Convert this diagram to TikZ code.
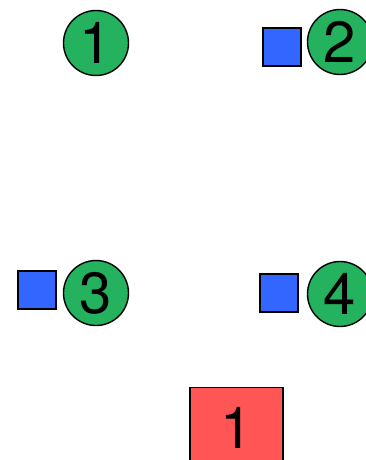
\documentclass[tikz,border=0pt]{standalone}
\usepackage{fontspec}
\setmainfont{TeX Gyre Heros}
\usetikzlibrary{positioning}
\definecolor{badgegreen}{RGB}{36,178,94}
\definecolor{markblue}{RGB}{51,102,255}
\definecolor{boxred}{RGB}{255,85,85}
\tikzset{
  badge/.style={circle,draw=black,line width=1.4pt,fill=badgegreen,
    minimum size=65pt,inner sep=0pt,font=\fontsize{58}{58}\selectfont},
  marker/.style={rectangle,draw=black,line width=1.4pt,fill=markblue,
    minimum size=38pt,inner sep=0pt},
  slotbox/.style={rectangle,draw=black,line width=1.4pt,fill=boxred,
    minimum width=93pt,minimum height=80pt,inner sep=0pt,
    font=\fontsize{58}{58}\selectfont}
}

\begin{document}
\begin{tikzpicture}[x=1pt,y=-1pt]
  % page frame, 1 unit = 1 px of the layout
  \useasboundingbox (0,0) rectangle (366,460);
  \clip (0,0) rectangle (366,460);
  % numbered badges
  \node[badge] (circ1) at (96,43) {1};
  \node[badge] (circ2) at (340,42) {2};
  \node[badge] (circ3) at (96,293) {3};
  \node[badge] (circ4) at (340,294) {4};
  % blue markers beside the badges
  \node[marker] (sq2) at (282,47) {};
  \node[marker] (sq3) at (37,290) {};
  \node[marker] (sq4) at (279,293) {};
  % red box at the bottom
  \node[slotbox,anchor=north] (box1) at (236.5,387) {1};
\end{tikzpicture}
\end{document}
